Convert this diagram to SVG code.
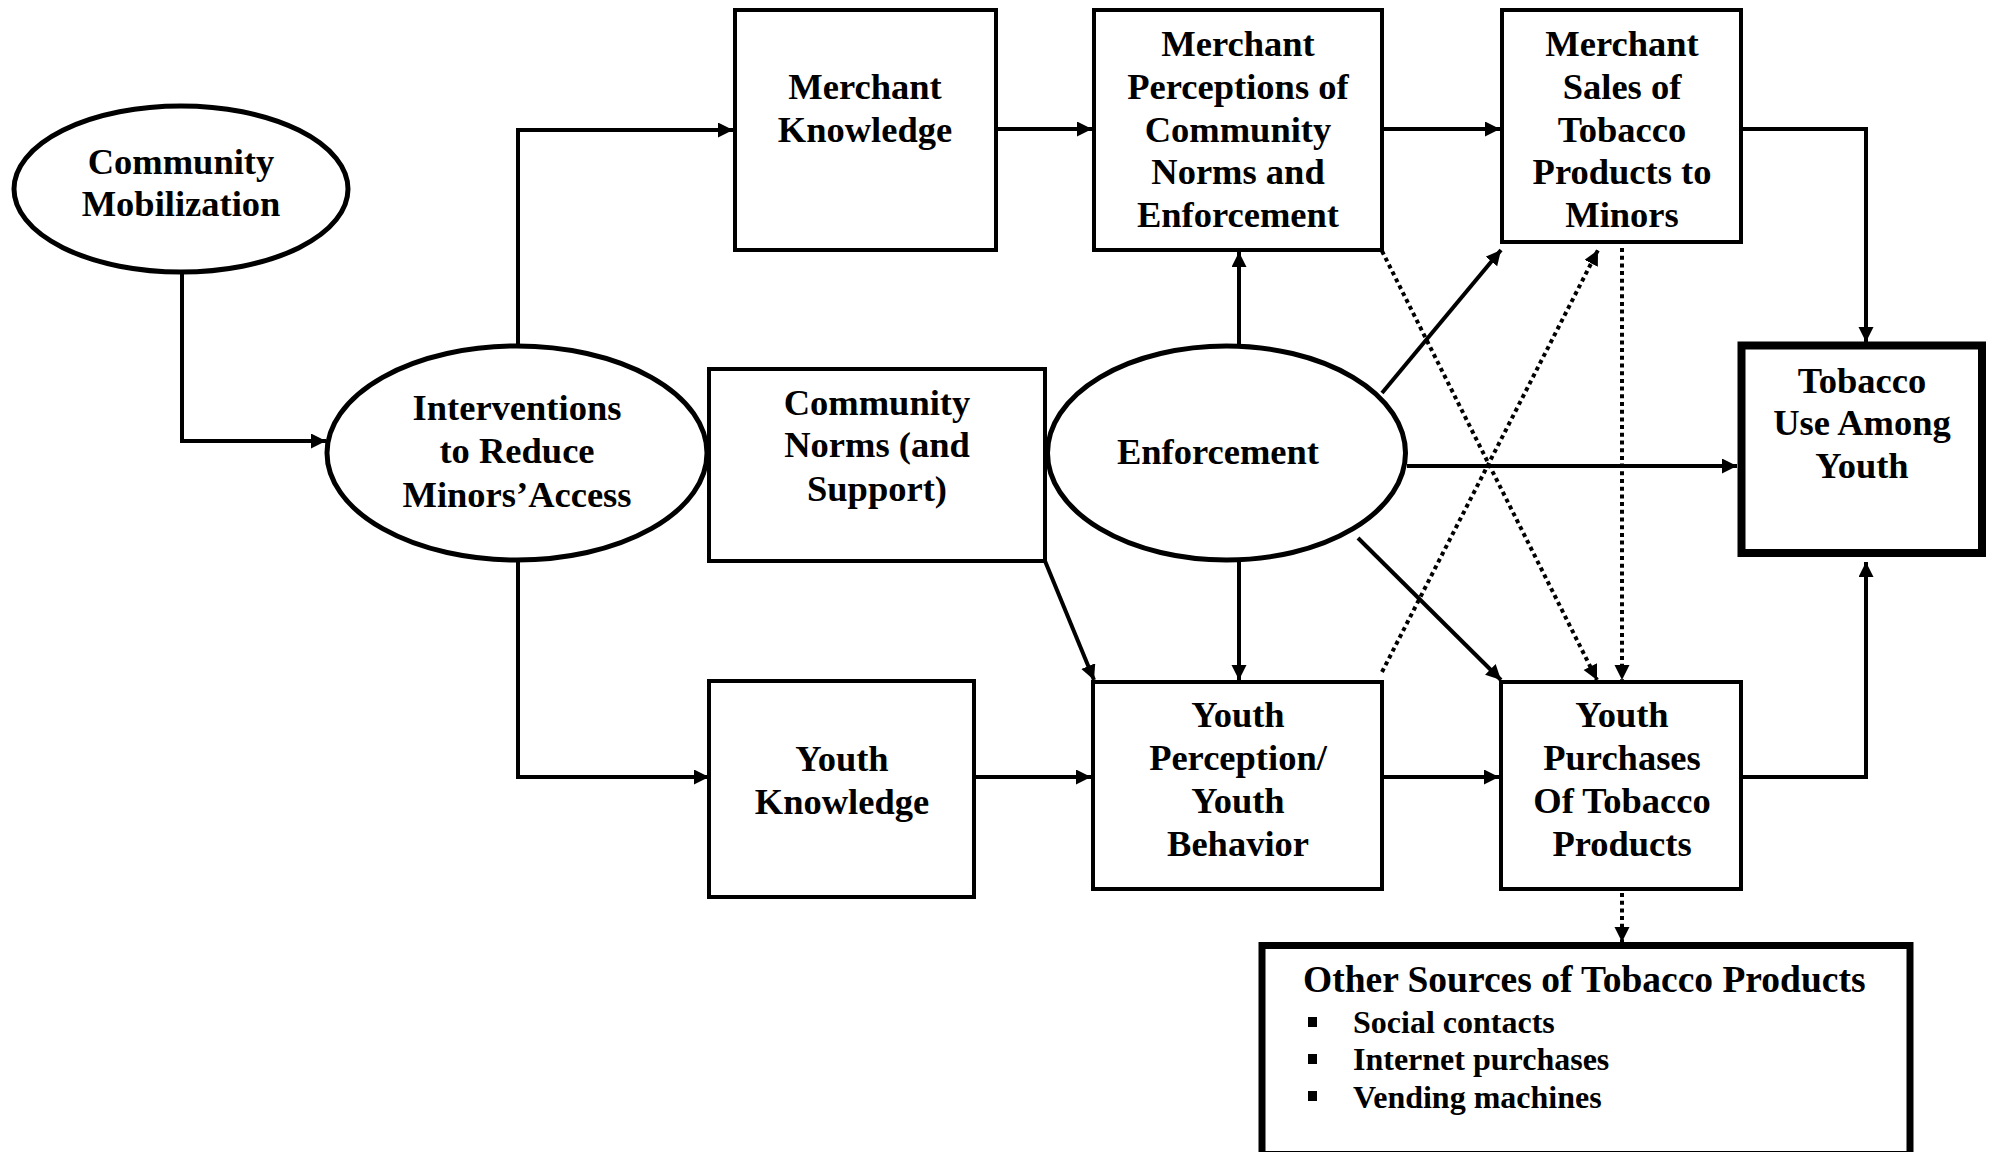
<svg xmlns="http://www.w3.org/2000/svg" width="1992" height="1152" viewBox="0 0 1992 1152">
<style>
.box{fill:#fff;stroke:#000;stroke-width:4}
.ell{fill:#fff;stroke:#000;stroke-width:5}
.thick{fill:#fff;stroke:#000;stroke-width:8}
.other{fill:#fff;stroke:#000;stroke-width:7}
.t{font-family:"Liberation Serif","Times New Roman",serif;font-weight:bold;font-size:36.5px;text-anchor:middle;fill:#000}
.o1{font-family:"Liberation Serif","Times New Roman",serif;font-weight:bold;font-size:37.5px;fill:#000}
.o2{font-family:"Liberation Serif","Times New Roman",serif;font-weight:bold;font-size:32px;fill:#000}
.c{fill:none;stroke:#000;stroke-width:4;marker-end:url(#ah)}
.d{fill:none;stroke:#000;stroke-width:4;stroke-dasharray:4 3.7;marker-end:url(#ah)}
</style>
<defs>
<marker id="ah" markerUnits="userSpaceOnUse" markerWidth="16" markerHeight="16" refX="15" refY="7.5" orient="auto" viewBox="0 0 16 16">
<path d="M0,0 L15,7.5 L0,15 z" fill="#000"/>
</marker>
</defs>
<rect width="1992" height="1152" fill="#fff"/>
<g id="connectors">
<polyline class="c" points="182,273 182,441 326,441"/>
<polyline class="c" points="518,344 518,130 733,130"/>
<polyline class="c" points="518,562 518,777 709,777"/>
<line class="c" x1="997" y1="129" x2="1092" y2="129"/>
<line class="c" x1="1382" y1="129" x2="1500" y2="129"/>
<polyline class="c" points="1741,129 1866,129 1866,342"/>
<line class="c" x1="1239" y1="344" x2="1239" y2="252"/>
<line class="c" x1="1382" y1="393" x2="1501" y2="250"/>
<line class="c" x1="1407" y1="466" x2="1737" y2="466"/>
<line class="c" x1="1358" y1="538" x2="1501" y2="680"/>
<line class="c" x1="1239" y1="562" x2="1239" y2="680"/>
<line class="c" x1="1045" y1="561" x2="1094" y2="680"/>
<line class="c" x1="974" y1="777" x2="1091" y2="777"/>
<line class="c" x1="1382" y1="777" x2="1499" y2="777"/>
<polyline class="c" points="1741,777 1866,777 1866,562"/>
<line class="d" x1="1382" y1="251" x2="1597" y2="680"/>
<line class="d" x1="1382" y1="672" x2="1598" y2="250"/>
<line class="d" x1="1622" y1="248" x2="1622" y2="680"/>
<line class="d" x1="1622" y1="893" x2="1622" y2="942"/>
</g>
<g id="community-mobilization">
<ellipse class="ell" cx="181" cy="189" rx="167" ry="83"/>
<text class="t" x="181" y="174">Community</text>
<text class="t" x="181" y="216">Mobilization</text>
</g>
<g id="interventions">
<ellipse class="ell" cx="517" cy="453" rx="190" ry="107"/>
<text class="t" x="517" y="420">Interventions</text>
<text class="t" x="517" y="463">to Reduce</text>
<text class="t" x="517" y="507">Minors’Access</text>
</g>
<g id="merchant-knowledge">
<rect class="box" x="735" y="10" width="261" height="240"/>
<text class="t" x="865" y="99">Merchant</text>
<text class="t" x="865" y="142">Knowledge</text>
</g>
<g id="merchant-perceptions">
<rect class="box" x="1094" y="10" width="288" height="240"/>
<text class="t" x="1238" y="56">Merchant</text>
<text class="t" x="1238" y="99">Perceptions of</text>
<text class="t" x="1238" y="142">Community</text>
<text class="t" x="1238" y="184">Norms and</text>
<text class="t" x="1238" y="227">Enforcement</text>
</g>
<g id="merchant-sales">
<rect class="box" x="1502" y="10" width="239" height="232"/>
<text class="t" x="1622" y="56">Merchant</text>
<text class="t" x="1622" y="99">Sales of</text>
<text class="t" x="1622" y="142">Tobacco</text>
<text class="t" x="1622" y="184">Products to</text>
<text class="t" x="1622" y="227">Minors</text>
</g>
<g id="community-norms">
<rect class="box" x="709" y="369" width="336" height="192"/>
<text class="t" x="877" y="415">Community</text>
<text class="t" x="877" y="457">Norms (and</text>
<text class="t" x="877" y="501">Support)</text>
</g>
<g id="enforcement">
<ellipse class="ell" cx="1226.5" cy="453" rx="179" ry="107"/>
<text class="t" x="1218" y="464">Enforcement</text>
</g>
<g id="tobacco-use">
<rect class="thick" x="1741.5" y="345.5" width="240.5" height="207.5"/>
<text class="t" x="1862" y="393">Tobacco</text>
<text class="t" x="1862" y="435">Use Among</text>
<text class="t" x="1862" y="478">Youth</text>
</g>
<g id="youth-knowledge">
<rect class="box" x="709" y="681" width="265" height="216"/>
<text class="t" x="842" y="771">Youth</text>
<text class="t" x="842" y="814">Knowledge</text>
</g>
<g id="youth-perception">
<rect class="box" x="1093" y="682" width="289" height="207"/>
<text class="t" x="1238" y="727">Youth</text>
<text class="t" x="1238" y="770">Perception/</text>
<text class="t" x="1238" y="813">Youth</text>
<text class="t" x="1238" y="856">Behavior</text>
</g>
<g id="youth-purchases">
<rect class="box" x="1501" y="682" width="240" height="207"/>
<text class="t" x="1622" y="727">Youth</text>
<text class="t" x="1622" y="770">Purchases</text>
<text class="t" x="1622" y="813">Of Tobacco</text>
<text class="t" x="1622" y="856">Products</text>
</g>
<g id="other-sources">
<rect class="other" x="1262" y="945.5" width="648" height="209"/>
<text class="o1" x="1303" y="992">Other Sources of Tobacco Products</text>
<rect x="1308" y="1017" width="9" height="10" fill="#000"/>
<rect x="1308" y="1054" width="9" height="10" fill="#000"/>
<rect x="1308" y="1091" width="9" height="10" fill="#000"/>
<text class="o2" x="1353" y="1033">Social contacts</text>
<text class="o2" x="1353" y="1070">Internet purchases</text>
<text class="o2" x="1353" y="1108">Vending machines</text>
</g>
</svg>
